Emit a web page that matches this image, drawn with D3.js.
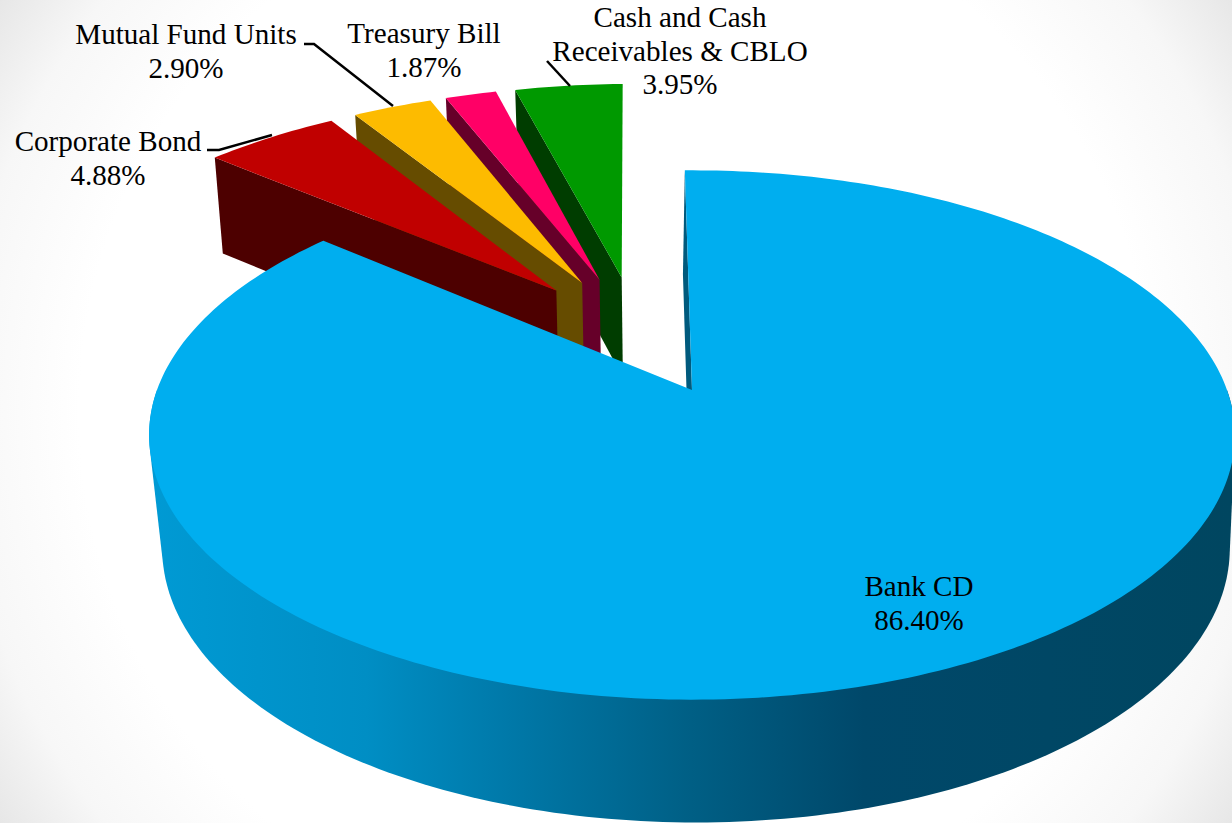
<!DOCTYPE html>
<html>
<head>
<meta charset="utf-8">
<script src="https://cdnjs.cloudflare.com/ajax/libs/d3/7.8.5/d3.min.js"></script>
<style>
  html, body { margin: 0; padding: 0; background: #fff; overflow: hidden; }
  svg { display: block; }
  text { font-family: "Liberation Serif", "Times New Roman", serif; font-size: 29.1px; fill: #000; }
</style>
</head>
<body>
<svg id="chart" width="1232" height="823"></svg>
<script>
// Portfolio allocation, exploded 3D pie
const categories = ["Bank CD", "Corporate Bond", "Mutual Fund Units", "Treasury Bill", "Cash and Cash Receivables & CBLO"];
const shares = [86.40, 4.88, 2.90, 1.87, 3.95];
const labelLines = [
  ["Bank CD", "86.40%"],
  ["Corporate Bond", "4.88%"],
  ["Mutual Fund Units", "2.90%"],
  ["Treasury Bill", "1.87%"],
  ["Cash and Cash", "Receivables & CBLO", "3.95%"]
];
const topColors = ["#00aeef", "#c00000", "#fdbb00", "#ff0066", "#009900"];
const wallColors = ["#005a7d", "#4d0000", "#664c00", "#660029", "#003d00"];

const labelAnchors = [[919, 596], [108, 151], [186, 44], [424, 43], [680, 27]];
const leaders = [
  null,
  [[207, 150], [219, 150], [272, 135]],
  [[304, 44], [314, 44], [393, 106]],
  null,
  [[547, 61], [570, 86]]
];

// Perspective of the upper and lower rims: unit-disc (X, Y) to screen, Y grows toward the viewer
const upperRim = { x0: 692, y0: 390, a: 535, b: 257, k: 0.17 };
const lowerRim = { x0: 696, y0: 502, a: 526, b: 266, k: 0.17 };
// Cut walls lean slightly relative to the curved wall's rim
const cutWallShift = [[-6, 0], [-4, -8], [-4, -8], [-4, -8], [-4, -8]];
const project = (rim, [X, Y], [dx, dy] = [0, 0]) => {
  const w = 1 - rim.k * Y;
  return [rim.x0 + dx + rim.a * X / w, rim.y0 + dy + rim.b * Y / w];
};

const explosion = 0.25;
const degree = Math.PI / 180;
const rotation = -0.9 * degree;
const dir = t => [Math.sin(t), -Math.cos(t)];

const slices = d3.pie().sort(null).value(d => d)
  .startAngle(rotation).endAngle(rotation + 2 * Math.PI)(shares);
const mid = s => (s.startAngle + s.endAngle) / 2;

// The largest slice's apex sits at the disc origin, so the pie centre is offset from it
const blueDir = dir(mid(slices[0]));
const centre = [-explosion * blueDir[0], -explosion * blueDir[1]];
const apexOf = s => {
  const d = dir(mid(s));
  return [centre[0] + explosion * d[0], centre[1] + explosion * d[1]];
};

// The thin far slices render with a slightly wider reach and a small extra turn
const rimPoint = (s, t) => {
  const small = s.index !== 0;
  const o = apexOf(s), d = dir(small ? t - 0.25 * degree : t);
  const r = small ? 1.02 : 1;
  return [o[0] + r * d[0], o[1] + r * d[1]];
};
const arcAngles = (s, step) => d3.range(s.startAngle, s.endAngle, step).concat(s.endAngle);

const svg = d3.select("#chart");
const defs = svg.append("defs");

const bg = defs.append("radialGradient").attr("id", "page")
  .attr("gradientUnits", "userSpaceOnUse")
  .attr("cx", 616).attr("cy", 411).attr("r", 745);
[[0, "#ffffff"], [0.72, "#ffffff"], [0.88, "#f7f7f7"], [1, "#e6e6e6"]]
  .forEach(([o, c]) => bg.append("stop").attr("offset", o).attr("stop-color", c));
svg.append("rect").attr("width", 1232).attr("height", 823).attr("fill", "url(#page)");

// Horizontal light falloff along the curved wall of the largest slice
const shade = defs.append("linearGradient").attr("id", "wallShade")
  .attr("gradientUnits", "userSpaceOnUse")
  .attr("x1", 150).attr("x2", 1232).attr("y1", 0).attr("y2", 0);
[[0, "#009ad4"], [0.2, "#008ec4"], [0.33, "#0079a9"], [0.5, "#005f85"], [0.66, "#00486a"], [1, "#004660"]]
  .forEach(([o, c]) => shade.append("stop").attr("offset", o).attr("stop-color", c));

const line = d3.line();
const drawOrder = [4, 3, 2, 1, 0];

drawOrder.forEach(i => {
  const s = slices[i];
  const g = svg.append("g").attr("class", "slice");
  const apex = apexOf(s);

  if (i === 0) {
    // Curved outer wall: hull of the visible front half of both rims
    const front = d3.range(90, 271, 1).map(a => rimPoint(s, a * degree));
    const hull = d3.polygonHull(front.flatMap(p => [project(upperRim, p), project(lowerRim, p)]));
    g.append("path").attr("d", line(hull) + "Z").attr("fill", "url(#wallShade)");
  }

  // Straight cut wall that faces the viewer's left
  const edge = rimPoint(s, s.startAngle);
  const wall = [
    project(upperRim, apex), project(upperRim, edge),
    project(lowerRim, edge, cutWallShift[i]), project(lowerRim, apex, cutWallShift[i])
  ];
  g.append("path").attr("d", line(wall) + "Z").attr("fill", wallColors[i]);

  // Top face
  const rim = arcAngles(s, degree).map(t => project(upperRim, rimPoint(s, t)));
  const face = [project(upperRim, apex)].concat(rim);
  g.append("path").attr("d", line(face) + "Z").attr("fill", topColors[i]);
});

// Leader lines
svg.append("g").selectAll("path")
  .data(leaders.filter(Boolean))
  .join("path")
  .attr("d", d => line(d))
  .attr("fill", "none").attr("stroke", "#000").attr("stroke-width", 2.5);

// Category and percentage labels
const labels = svg.append("g").selectAll("text")
  .data(labelLines)
  .join("text")
  .attr("text-anchor", "middle")
  .attr("aria-label", (d, i) => categories[i]);
labels.each(function (lines, i) {
  const [x, y] = labelAnchors[i];
  d3.select(this).selectAll("tspan").data(lines).join("tspan")
    .attr("x", x).attr("y", (d, j) => y + j * 33.5).text(d => d);
});
</script>
</body>
</html>
